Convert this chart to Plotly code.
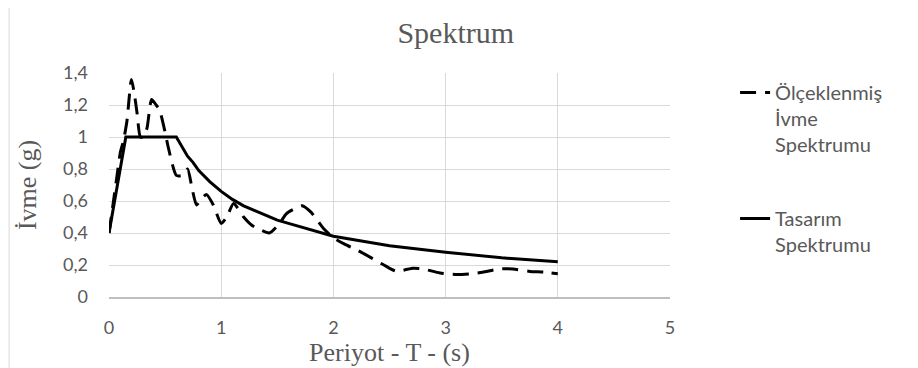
import plotly.graph_objects as go

# design spectrum (Tasarım Spektrumu)
des_T = [0, 0.15, 0.6, 0.65, 0.7, 0.75, 0.8, 0.9, 1.0, 1.1, 1.2, 1.3, 1.4, 1.5, 1.6,
         1.8, 2.0, 2.25, 2.5, 2.75, 3.0, 3.5, 4.0]
des_A = [0.4, 1.0, 1.0, 0.94, 0.88, 0.84, 0.79, 0.72, 0.66, 0.61, 0.57, 0.54, 0.51,
         0.48, 0.46, 0.42, 0.38, 0.35, 0.32, 0.30, 0.28, 0.245, 0.22]

# scaled acceleration spectrum (Ölçeklenmiş İvme Spektrumu)
ms_T = [0, 0.04, 0.07, 0.1, 0.13, 0.16, 0.2, 0.23, 0.25, 0.28, 0.31, 0.34, 0.38, 0.42,
        0.45, 0.5, 0.53, 0.6, 0.65, 0.7, 0.74, 0.78, 0.83, 0.87, 0.93, 1.0, 1.05, 1.11,
        1.2, 1.27, 1.32, 1.43, 1.52, 1.58, 1.65, 1.72, 1.8, 1.91, 2.0, 2.1, 2.22, 2.35,
        2.45, 2.56, 2.64, 2.71, 2.8, 2.95, 3.1, 3.22, 3.33, 3.48, 3.6, 3.75, 3.88, 4.0]
ms_A = [0.4, 0.6, 0.75, 0.9, 0.98, 1.1, 1.36, 1.25, 1.15, 1.0, 1.0, 1.06, 1.235, 1.2,
        1.17, 1.03, 0.93, 0.76, 0.76, 0.80, 0.68, 0.575, 0.62, 0.64, 0.575, 0.46, 0.5,
        0.585, 0.5, 0.45, 0.43, 0.40, 0.46, 0.52, 0.55, 0.57, 0.53, 0.43, 0.37, 0.33,
        0.29, 0.24, 0.2, 0.16, 0.17, 0.18, 0.175, 0.15, 0.14, 0.145, 0.155, 0.175,
        0.175, 0.16, 0.155, 0.145]

x_ticks = [0, 1, 2, 3, 4, 5]
y_ticks = [0, 0.2, 0.4, 0.6, 0.8, 1.0, 1.2, 1.4]
y_labels = ["0", "0,2", "0,4", "0,6", "0,8", "1", "1,2", "1,4"]

grey = "#595959"
serif = "Liberation Serif, Times New Roman, serif"
sans = "Lato, Open Sans, sans-serif"

fig = go.Figure()
fig.add_trace(go.Scatter(
    x=ms_T, y=ms_A, mode="lines", name="Ölçeklenmiş<br>İvme<br>Spektrumu",
    line=dict(color="black", width=3, dash="16px,9px", shape="spline", smoothing=0.6),
    legend="legend", showlegend=True))
fig.add_trace(go.Scatter(
    x=des_T, y=des_A, mode="lines", name="Tasarım<br>Spektrumu",
    line=dict(color="black", width=3), legend="legend2", showlegend=True))

legend_common = dict(xref="paper", yref="paper", xanchor="left", yanchor="top",
                     valign="top", bgcolor="rgba(0,0,0,0)",
                     font=dict(family=sans, size=20, color=grey))

# the page body adds an 8px offset, so the figure is 8px smaller on each side
fig.update_layout(
    width=910, height=360, showlegend=True,
    margin=dict(l=101, r=248, t=65, b=71, autoexpand=False),
    paper_bgcolor="white", plot_bgcolor="white",
    title=dict(text="Spektrum", x=0.492, xanchor="center", y=0.933, yanchor="middle",
               font=dict(family=serif, size=30, color=grey)),
    legend=dict(x=1.116, y=1.0, **legend_common),
    legend2=dict(x=1.116, y=0.4375, **legend_common),
    xaxis=dict(range=[0, 5], tickvals=x_ticks, ticktext=[str(v) for v in x_ticks],
               showgrid=True, gridcolor="#d9d9d9", gridwidth=1, zeroline=False,
               showline=True, linecolor="#bfbfbf", linewidth=1.5, ticks="",
               ticklabelstandoff=14, automargin=False,
               tickfont=dict(family=sans, size=18, color=grey),
               title=dict(text="Periyot - T - (s)", standoff=4,
                          font=dict(family=serif, size=26, color=grey))),
    yaxis=dict(range=[0, 1.4], tickvals=y_ticks, ticktext=y_labels,
               showgrid=True, gridcolor="#d9d9d9", gridwidth=1, zeroline=False,
               showline=False, ticks="", ticklabelstandoff=20, automargin=False,
               tickfont=dict(family=sans, size=18, color=grey),
               title=dict(text="İvme (g)", standoff=18,
                          font=dict(family=serif, size=26, color=grey))),
    shapes=[dict(type="rect", xref="paper", yref="paper",
                 x0=-0.178, x1=1.45, y0=-0.35, y1=1.295,
                 line=dict(color="#d9d9d9", width=1), fillcolor="rgba(0,0,0,0)",
                 layer="below")],
)

fig.write_html("out.html")
